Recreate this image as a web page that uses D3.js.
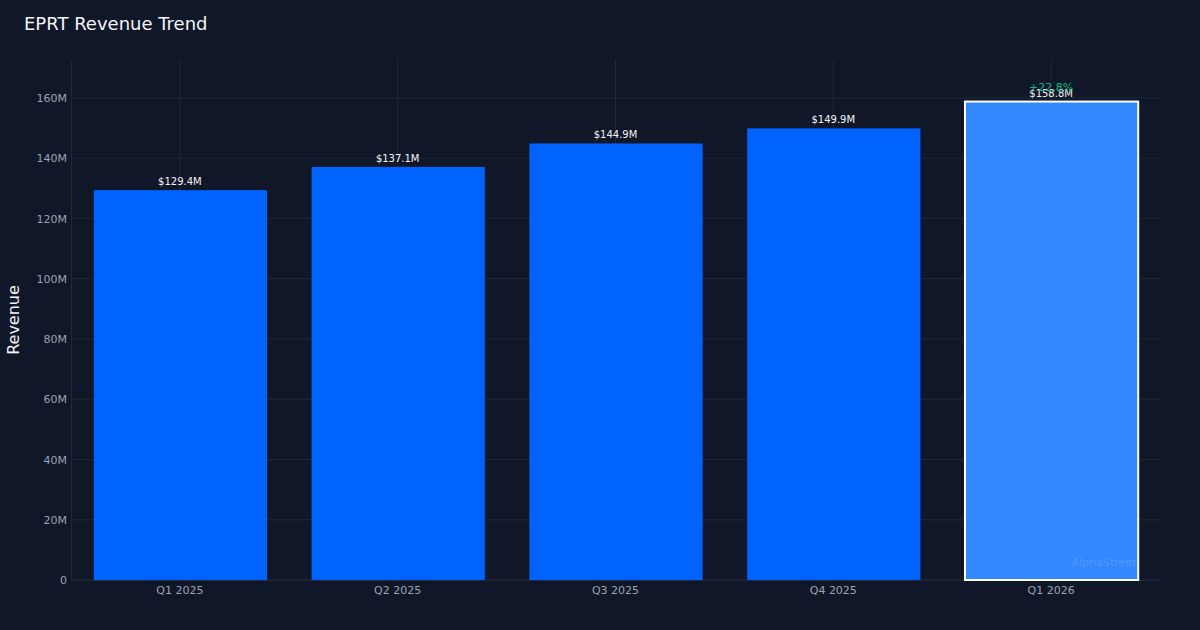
<!DOCTYPE html>
<html>
<head>
<meta charset="utf-8">
<script src="https://cdn.jsdelivr.net/npm/d3@7"></script>
<style>
  body { margin: 0; background: #0f1729; }
  svg { display: block; font-family: "DejaVu Sans", sans-serif; }
</style>
</head>
<body>
<svg id="chart"></svg>
<script>
var quarters = ["Q1 2025", "Q2 2025", "Q3 2025", "Q4 2025", "Q1 2026"];
var revenue = [129.4, 137.1, 144.9, 149.9, 158.8];
var highlightIndex = 4;
var growthLabel = "+22.8%";
var yTicks = [0, 20, 40, 60, 80, 100, 120, 140, 160];

var width = 1200,
    height = 630;
var margin = { top: 60, right: 40, bottom: 50, left: 71 };

var svg = d3.select("#chart")
    .attr("width", width)
    .attr("height", height);

svg.append("rect")
    .attr("width", width)
    .attr("height", height)
    .attr("fill", "#0f1729");

var x = d3.scaleBand()
    .domain(quarters)
    .range([margin.left, width - margin.right])
    .paddingInner(0.2)
    .paddingOuter(0.1);

var y = d3.scaleLinear()
    .domain([0, 172.6])
    .range([height - margin.bottom, margin.top]);

// grid
var grid = svg.append("g");
grid.selectAll("line.h").data(yTicks)
    .enter().append("line")
    .attr("x1", margin.left)
    .attr("x2", width - margin.right)
    .attr("y1", function(d) { return y(d); })
    .attr("y2", function(d) { return y(d); })
    .attr("stroke", "#1f2937")
    .attr("stroke-width", 1);

grid.selectAll("line.v").data(quarters)
    .enter().append("line")
    .attr("x1", function(d) { return x(d) + x.bandwidth() / 2; })
    .attr("x2", function(d) { return x(d) + x.bandwidth() / 2; })
    .attr("y1", margin.top)
    .attr("y2", height - margin.bottom)
    .attr("stroke", "#1f2937")
    .attr("stroke-width", 1);

// y axis
var yAxis = svg.append("g")
    .attr("transform", "translate(" + margin.left + ",0)")
    .call(d3.axisLeft(y).tickValues(yTicks).tickSize(0).tickPadding(4)
        .tickFormat(function(d) { return d === 0 ? "0" : d + "M"; }));
yAxis.select(".domain").attr("stroke", "#1f2937");
yAxis.selectAll("text")
    .attr("fill", "#9ca3af")
    .style("font-size", "11px")
    .style("font-family", "DejaVu Sans, sans-serif");

// x axis
var xAxis = svg.append("g")
    .attr("transform", "translate(0," + (height - margin.bottom) + ")")
    .call(d3.axisBottom(x).tickSize(0).tickPadding(6));
xAxis.select(".domain").attr("stroke", "#1f2937");
xAxis.selectAll("text")
    .attr("fill", "#9ca3af")
    .style("font-size", "11px")
    .style("font-family", "DejaVu Sans, sans-serif");

// bars
var data = d3.zip(quarters, revenue);

svg.append("g").selectAll("rect").data(data)
    .enter().append("rect")
    .attr("x", function(d) { return x(d[0]) + 1; })
    .attr("y", function(d) { return y(d[1]); })
    .attr("width", x.bandwidth() - 1)
    .attr("height", function(d) { return y(0) - y(d[1]); })
    .attr("fill", function(d, i) { return i == highlightIndex ? "#3388ff" : "#0062ff"; })
    .attr("stroke", function(d, i) { return i == highlightIndex ? "#ffffff" : "none"; })
    .attr("stroke-width", 2);

// value labels
svg.append("g").selectAll("text").data(data)
    .enter().append("text")
    .attr("x", function(d) { return x(d[0]) + x.bandwidth() / 2; })
    .attr("y", function(d) { return y(d[1]) - 5; })
    .attr("text-anchor", "middle")
    .attr("fill", "#f3f4f6")
    .style("font-size", "10px")
    .text(function(d) { return "$" + d[1].toFixed(1) + "M"; });

// growth label
svg.append("text")
    .attr("x", x(quarters[highlightIndex]) + x.bandwidth() / 2)
    .attr("y", y(revenue[highlightIndex]) - 11)
    .attr("text-anchor", "middle")
    .attr("fill", "#10b981")
    .style("font-size", "11px")
    .text(growthLabel);

// watermark
svg.append("text")
    .attr("x", x(quarters[highlightIndex]) + x.bandwidth() - 2)
    .attr("y", height - margin.bottom - 14)
    .attr("text-anchor", "end")
    .attr("fill", "#ffffff")
    .attr("fill-opacity", 0.15)
    .style("font-size", "11px")
    .text("AlphaStreet");

// title
svg.append("text")
    .attr("x", 24)
    .attr("y", 30)
    .attr("fill", "#f3f4f6")
    .style("font-size", "18px")
    .text("EPRT Revenue Trend");

// y title
svg.append("text")
    .attr("transform", "translate(19," + ((margin.top + height - margin.bottom) / 2) + ") rotate(-90)")
    .attr("text-anchor", "middle")
    .attr("fill", "#f3f4f6")
    .style("font-size", "16px")
    .text("Revenue");
</script>
</body>
</html>
